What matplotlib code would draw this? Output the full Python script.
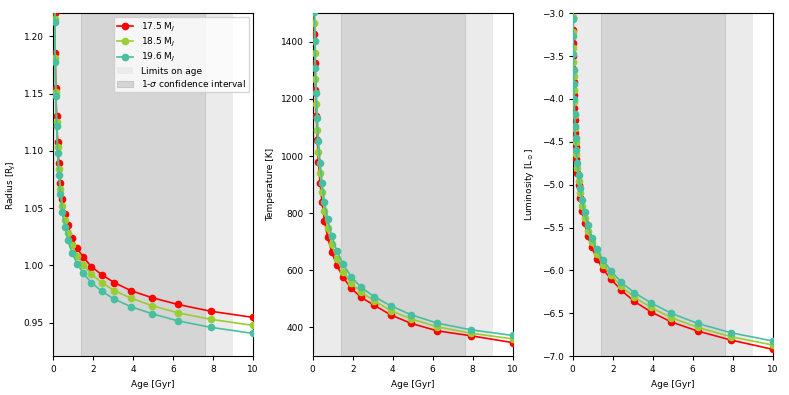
import numpy as np
import matplotlib
matplotlib.use('Agg')
from matplotlib import pyplot as plt

# ages in Gyr (shared by all tracks)
age = [0.011, 0.014, 0.018, 0.022, 0.028, 0.035, 0.044, 0.056, 0.07, 0.09,
       0.11, 0.14, 0.18, 0.23, 0.29, 0.37, 0.47, 0.59, 0.75, 0.95,
       1.2, 1.52, 1.92, 2.43, 3.07, 3.9, 4.93, 6.24, 7.9, 10.0]

masses = ['17.5 M$_J$', '18.5 M$_J$', '19.6 M$_J$']
colors = ['#ff0000', '#9acd32', '#47bfa0']

radius_175 = [1.62, 1.56, 1.51, 1.46, 1.41, 1.37, 1.33, 1.29, 1.255, 1.22,
              1.185, 1.155, 1.13, 1.108, 1.089, 1.072, 1.058, 1.045, 1.035, 1.024,
              1.015, 1.007, 0.999, 0.992, 0.985, 0.978, 0.972, 0.966, 0.960, 0.9547]
radius_185 = [1.60, 1.54, 1.49, 1.44, 1.39, 1.35, 1.31, 1.28, 1.248, 1.215,
              1.181, 1.151, 1.125, 1.103, 1.084, 1.067, 1.052, 1.0395, 1.0285, 1.0177,
              1.0084, 1.0, 0.9924, 0.985, 0.978, 0.9715, 0.965, 0.9587, 0.953, 0.9477]
radius_196 = [1.59, 1.53, 1.48, 1.43, 1.38, 1.34, 1.30, 1.27, 1.245, 1.2125,
              1.1776, 1.1477, 1.1215, 1.0985, 1.079, 1.062, 1.047, 1.0337, 1.022, 1.011,
              1.0017, 0.993, 0.985, 0.9776, 0.9706, 0.964, 0.958, 0.9517, 0.946, 0.9407]

temp_175 = [2550, 2400, 2260, 2130, 2000, 1880, 1760, 1640, 1530, 1427,
            1325, 1232, 1141, 1056, 978, 907, 838, 774, 715, 665,
            619, 576, 537, 505, 478, 444, 414, 388, 371, 347]
temp_185 = [2600, 2450, 2310, 2180, 2050, 1930, 1810, 1690, 1575, 1467,
            1360, 1269, 1182, 1092, 1014, 941, 873, 808, 747, 691,
            641, 595, 556, 523, 494, 459, 430, 402, 380, 360]
temp_196 = [2650, 2500, 2360, 2230, 2100, 1980, 1860, 1740, 1620, 1505,
            1403, 1307, 1222, 1133, 1052, 976, 907, 841, 780, 721,
            669, 622, 578, 540, 508, 476, 444, 415, 392, 372]

lum_175 = [-2.9, -3.05, -3.2, -3.35, -3.5, -3.65, -3.8, -3.95, -4.1, -4.25,
           -4.4, -4.556, -4.704, -4.86, -5.008, -5.152, -5.303, -5.447, -5.595, -5.732,
           -5.864, -5.988, -6.105, -6.233, -6.362, -6.483, -6.603, -6.708, -6.813, -6.922]
lum_185 = [-2.7, -2.87, -3.04, -3.22, -3.4, -3.57, -3.73, -3.89, -4.04, -4.19,
           -4.342, -4.498, -4.646, -4.802, -4.953, -5.101, -5.245, -5.393, -5.537, -5.673,
           -5.805, -5.938, -6.058, -6.187, -6.311, -6.432, -6.553, -6.665, -6.774, -6.872]
lum_196 = [-2.6, -2.75, -2.9, -3.07, -3.27, -3.47, -3.66, -3.83, -4.0, -4.17,
           -4.32, -4.46, -4.6, -4.75, -4.89, -5.04, -5.18, -5.32, -5.47, -5.62,
           -5.755, -5.88, -6.008, -6.14, -6.26, -6.377, -6.502, -6.619, -6.728, -6.825]

age_limits = (0.0, 9.0)
age_sigma = (1.4, 7.6)

panels = [
    ([radius_175, radius_185, radius_196], 'Radius [R$_J$]', (0.921, 1.22), np.arange(0.95, 1.21, 0.05), '{:.2f}'),
    ([temp_175, temp_185, temp_196], 'Temperature [K]', (300, 1500), np.arange(400, 1401, 200), '{:.0f}'),
    ([lum_175, lum_185, lum_196], 'Luminosity [L$_\\odot$]', (-7.0, -3.0), np.arange(-7.0, -2.99, 0.5), '{:.1f}'),
]

plt.rcParams['font.size'] = 6.5
fig = plt.figure(figsize=(7.89, 3.95), dpi=100)
lefts = [0.0672, 0.3963, 0.7259]

for i, (series, ylab, ylim, yt, fmt) in enumerate(panels):
    ax = fig.add_axes([lefts[i], 0.0987, 0.2535, 0.8676])
    ax.axvspan(*age_limits, color='#ebebeb', lw=0, label='Limits on age')
    ax.axvspan(*age_sigma, facecolor='#d5d5d5', edgecolor='#c8c8c8', lw=0.8,
               label='1-$\\sigma$ confidence interval')
    ax.axvline(0, color='0.55', lw=1.5, zorder=1)
    for s, c, m in zip(series, colors, masses):
        ax.plot(age, s, '-o', color=c, ms=4.5, lw=1.2, label=m, zorder=3)
    ax.set_xlim(0, 10)
    ax.set_ylim(*ylim)
    ax.set_xticks([0, 2, 4, 6, 8, 10])
    ax.set_yticks(yt)
    ax.set_yticklabels([fmt.format(v).replace('-', '\u2212') for v in yt])
    ax.set_xlabel('Age [Gyr]')
    ax.set_ylabel(ylab)
    ax.tick_params(length=3, width=0.8)
    if i == 0:
        h, lb = ax.get_legend_handles_labels()
        order = [2, 3, 4, 0, 1]
        ax.legend([h[k] for k in order], [lb[k] for k in order], loc='upper right',
                  fontsize=6.5, framealpha=0.8, labelspacing=0.25, handlelength=1.8,
                  borderaxespad=0.4)

plt.savefig('out.png', dpi=100)
